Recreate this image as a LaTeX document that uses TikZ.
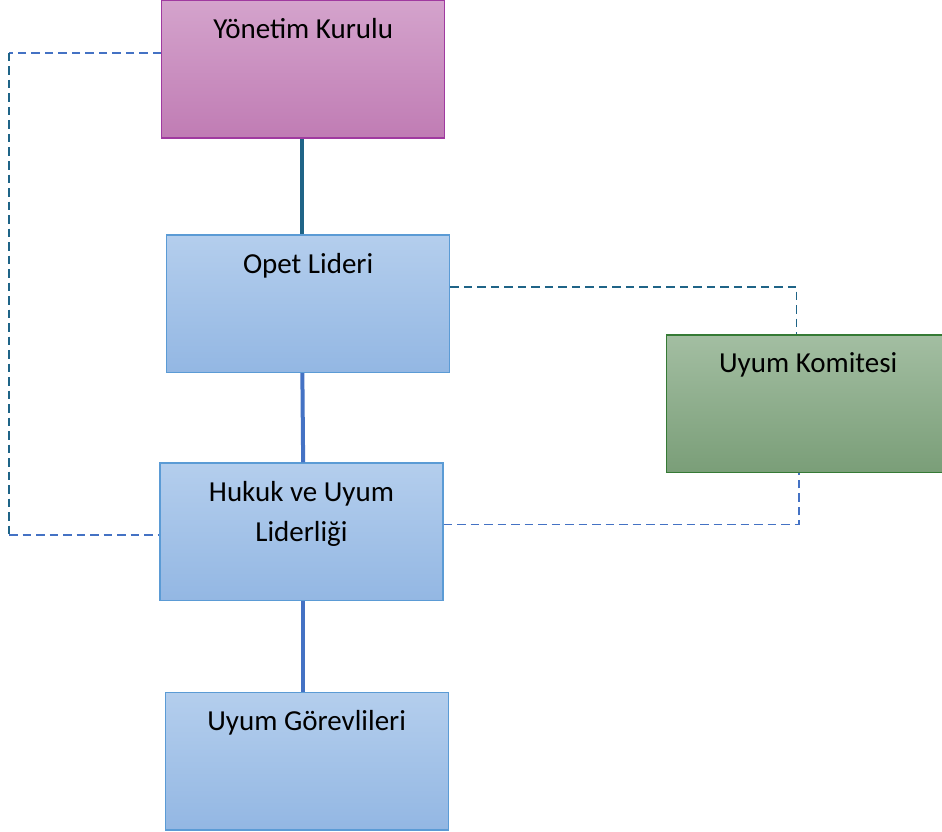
\documentclass[tikz,border=0pt]{standalone}
\usepackage{fontspec}
\setmainfont{Carlito}
\definecolor{yktop}{HTML}{D4A3CC}
\definecolor{ykbot}{HTML}{C07CB4}
\definecolor{ykline}{HTML}{A03AA0}
\definecolor{bltop}{HTML}{B4CEED}
\definecolor{blbot}{HTML}{93B7E3}
\definecolor{blline}{HTML}{5B9BD5}
\definecolor{grtop}{HTML}{A3BEA2}
\definecolor{grbot}{HTML}{7A9E78}
\definecolor{grline}{HTML}{357A35}
\definecolor{tealline}{HTML}{1F6487}
\definecolor{blueline}{HTML}{4472C4}
\begin{document}
\begin{tikzpicture}[x=1pt, y=-1pt, box/.style={rectangle, line width=1.3pt, minimum width=283pt, minimum height=137.5pt, anchor=north west, inner sep=0pt}, title/.style={anchor=base, align=center, inner sep=0pt, font=\fontsize{29}{40}\selectfont}]
\tikzset{pinkbox/.style={box, draw=ykline, top color=yktop, bottom color=ykbot},
  bluebox/.style={box, draw=blline, top color=bltop, bottom color=blbot},
  greenbox/.style={box, draw=grline, top color=grtop, bottom color=grbot},
  solidlink/.style={line width=4pt},
  dashlink/.style={line width=1.7pt, dash pattern=on 8.5pt off 5pt}}
\useasboundingbox (0,0) rectangle (942,832);

\node[pinkbox] (0) at (161,0) {};
\node[bluebox] (1) at (166,234.3) {};
\node[greenbox] (2) at (666,334.3) {};
\node[bluebox] (3) at (159.3,462.3) {};
\node[bluebox] (4) at (164.5,691.7) {};

\node[title] (0t) at ([yshift=-38.5pt]0.north) {Yönetim Kurulu};
\node[title] (1t) at ([yshift=-39pt]1.north) {Opet Lideri};
\node[title] (2t) at ([yshift=-38pt]2.north) {Uyum Komitesi};
% base is the last line here
\node[title] (3t) at ([yshift=-79.5pt]3.north) {Hukuk ve Uyum\\Liderliği};
\node[title] (4t) at ([yshift=-38.5pt]4.north) {Uyum Görevlileri};

% solid links
\draw[solidlink, tealline] ([xshift=-1.2pt]0.south) -- ([xshift=-6.2pt]1.north);
\draw[solidlink, blueline] ([xshift=-5.8pt]1.south) -- ([xshift=1.7pt]3.north);
\draw[solidlink, blueline] ([xshift=1.9pt]3.south) -- ([xshift=-3.3pt]4.north);

% dashed links
\coordinate (l1) at (9,53);
\coordinate (l2) at (9,535);
\coordinate (r1) at (796.5,286.7);
\coordinate (r2) at (799,524.5);
\draw[dashlink, blueline] (0.west |- l1) -- (l1);
\draw[dashlink, tealline] (l1) -- (l2);
\draw[dashlink, blueline] (l2) -- (3.west |- l2);
\draw[dashlink, tealline] (1.east |- r1) -- (r1) -- (r1 |- 2.north);
\draw[dashlink, blueline] (3.east |- r2) -- (r2) -- (r2 |- 2.south);
\end{tikzpicture}
\end{document}
